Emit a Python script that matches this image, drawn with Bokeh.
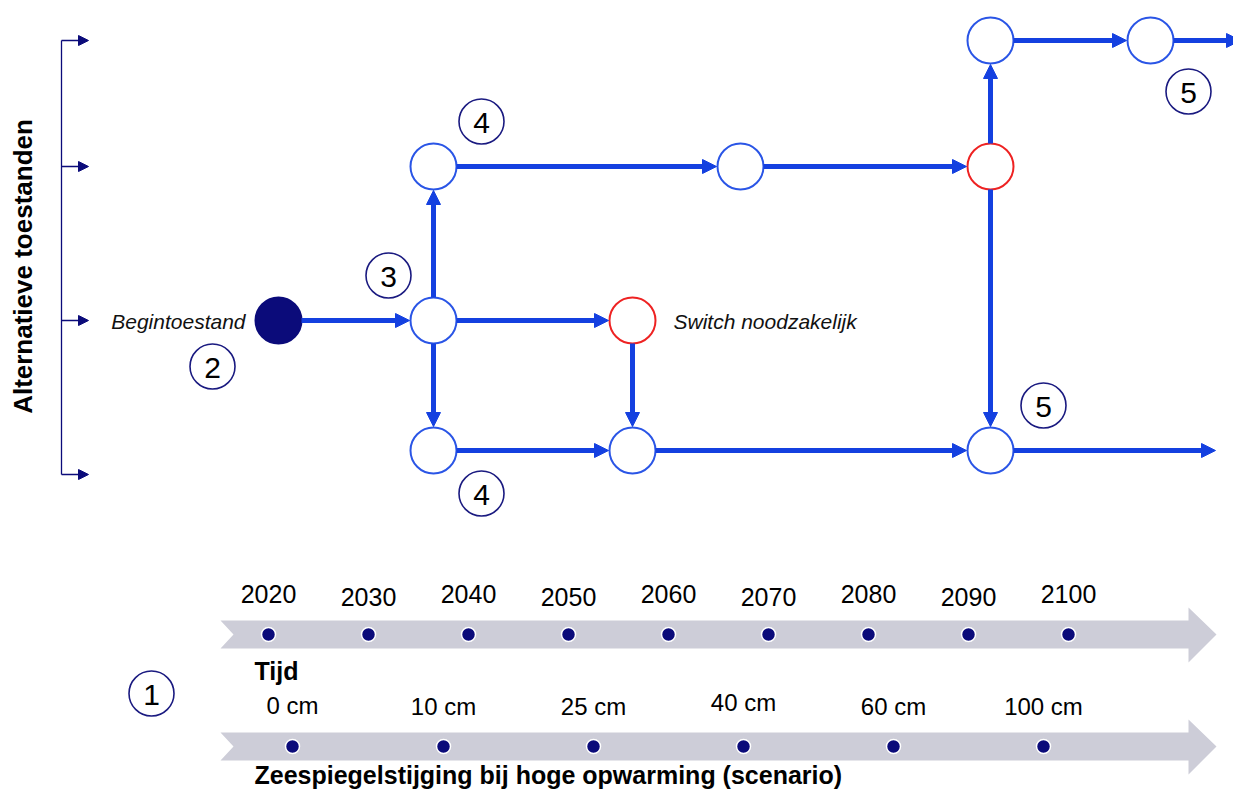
import math
from bokeh.plotting import figure
from bokeh.models import Range1d, Arrow, NormalHead, ColumnDataSource
from bokeh.core.properties import value
from bokeh.embed import file_html
from bokeh.resources import INLINE

# ---------------- data ----------------
years = ["2020", "2030", "2040", "2050", "2060", "2070", "2080", "2090", "2100"]
year_x = [268, 368, 468, 568, 668, 768, 868, 968, 1068]
year_label_y = [593, 596, 593, 596, 593, 596, 593, 596, 593]

sea_levels = ["0 cm", "10 cm", "25 cm", "40 cm", "60 cm", "100 cm"]
sea_x = [292, 443, 593, 743, 893, 1043]
sea_label_y = [705, 706, 706, 702, 706, 706]

# states (rows) of the alternative-states axis
state_rows = [40, 166, 320, 474]

# pathway nodes
node_names = ["start", "a", "a_up", "a_dn", "sw", "sw_dn", "b_up", "c", "c_up", "c_dn", "d_up"]
node_x = [278, 433, 433, 433, 632, 632, 740, 990, 990, 990, 1150]
node_y = [320, 320, 166, 450, 320, 450, 166, 166, 40, 450, 40]
node_kind = ["begin", "n", "n", "n", "switch", "n", "n", "switch", "n", "n", "n"]

edges = [("start", "a"), ("a", "a_up"), ("a", "sw"), ("a", "a_dn"),
         ("a_up", "b_up"), ("b_up", "c"), ("sw", "sw_dn"), ("a_dn", "sw_dn"),
         ("sw_dn", "c_dn"), ("c", "c_up"), ("c", "c_dn"), ("c_up", "d_up")]
open_ends = [("d_up", 1240, 40), ("c_dn", 1215, 450)]

step_labels = ["4", "3", "2", "4", "5", "5", "1"]
step_x = [481, 388, 212, 481, 1043, 1188, 151]
step_y = [121, 275, 366, 493, 405, 91, 693]

# ---------------- style ----------------
NAVY = "#0b0b7a"
BLUE = "#1440e0"
NODE_LINE = "#2a55e6"
RED = "#ee2222"
BAND = "#cdcdd8"
FONT = value("Liberation Sans")
R = 23

p = figure(width=1233, height=790, x_range=Range1d(0, 1233), y_range=Range1d(790, 0),
           output_backend="svg", toolbar_location=None, min_border=0)
p.axis.visible = False
p.grid.visible = False
p.outline_line_color = None
p.background_fill_color = "white"
p.border_fill_color = "white"

# ---- left bracket (alternative states) ----
p.segment(x0=[61], y0=[min(state_rows)], x1=[61], y1=[max(state_rows)], line_color=NAVY, line_width=1.3)
for ry in state_rows:
    p.add_layout(Arrow(end=NormalHead(size=10, fill_color=NAVY, line_color=NAVY),
                       x_start=61, y_start=ry, x_end=88, y_end=ry,
                       line_color=NAVY, line_width=1.3))
p.text(x=[22], y=[266], text=["Alternatieve toestanden"], angle=math.pi / 2,
       text_font=FONT, text_font_style="bold", text_font_size="26px",
       text_align="center", text_baseline="middle", text_color="black")

# ---- edges ----
pos = {n: (x, y) for n, x, y in zip(node_names, node_x, node_y)}
for a, b in edges:
    x0, y0 = pos[a]
    x1, y1 = pos[b]
    d = math.hypot(x1 - x0, y1 - y0)
    ux, uy = (x1 - x0) / d, (y1 - y0) / d
    p.add_layout(Arrow(end=NormalHead(size=14, fill_color=BLUE, line_color=BLUE),
                       x_start=x0 + ux * R, y_start=y0 + uy * R,
                       x_end=x1 - ux * (R + 1), y_end=y1 - uy * (R + 1),
                       line_color=BLUE, line_width=5))
for a, ex, ey in open_ends:
    x0, y0 = pos[a]
    p.add_layout(Arrow(end=NormalHead(size=14, fill_color=BLUE, line_color=BLUE),
                       x_start=x0 + R, y_start=y0, x_end=ex, y_end=ey,
                       line_color=BLUE, line_width=5))

# ---- nodes ----
fills = [NAVY if k == "begin" else "white" for k in node_kind]
lines = [NAVY if k == "begin" else (RED if k == "switch" else NODE_LINE) for k in node_kind]
src = ColumnDataSource(dict(x=node_x, y=node_y, fill=fills, line=lines))
p.circle(x="x", y="y", radius=R, fill_color="fill", line_color="line", line_width=2, source=src)

p.text(x=[245], y=[321], text=["Begintoestand"], text_font=FONT, text_font_style="italic",
       text_font_size="21px", text_align="right", text_baseline="middle", text_color="#111111")
p.text(x=[673], y=[321], text=["Switch noodzakelijk"], text_font=FONT, text_font_style="italic",
       text_font_size="21px", text_align="left", text_baseline="middle", text_color="#111111")

# ---- numbered step markers ----
p.circle(x=step_x, y=step_y, radius=22.5, fill_color="white", line_color="#1a1a80", line_width=1.6)
p.text(x=step_x, y=[v + 1 for v in step_y], text=step_labels, text_font=FONT, text_font_size="30px",
       text_align="center", text_baseline="middle", text_color="black")

# ---- timeline bands ----
def band(yc):
    xs = [220, 1188, 1188, 1216, 1188, 1188, 220, 233]
    ys = [yc - 14, yc - 14, yc - 27, yc, yc + 28, yc + 14, yc + 14, yc]
    p.patch(xs, ys, fill_color=BAND, line_color=None)

band(634)
band(746)

p.scatter(x=year_x, y=[634] * len(year_x), size=14, fill_color=NAVY, line_color="white", line_width=1.5)
p.text(x=year_x, y=year_label_y, text=years, text_font=FONT, text_font_size="25px",
       text_align="center", text_baseline="middle", text_color="black")

p.scatter(x=sea_x, y=[746] * len(sea_x), size=14, fill_color=NAVY, line_color="white", line_width=1.5)
p.text(x=sea_x, y=sea_label_y, text=sea_levels, text_font=FONT, text_font_size="24px",
       text_align="center", text_baseline="middle", text_color="black")

p.text(x=[254], y=[670], text=["Tijd"], text_font=FONT, text_font_style="bold", text_font_size="25px",
       text_align="left", text_baseline="middle", text_color="black")
p.text(x=[254], y=[774], text=["Zeespiegelstijging bij hoge opwarming (scenario)"], text_font=FONT,
       text_font_style="bold", text_font_size="25px", text_align="left", text_baseline="middle",
       text_color="black")

open("out.html", "w").write(file_html(p, INLINE))
